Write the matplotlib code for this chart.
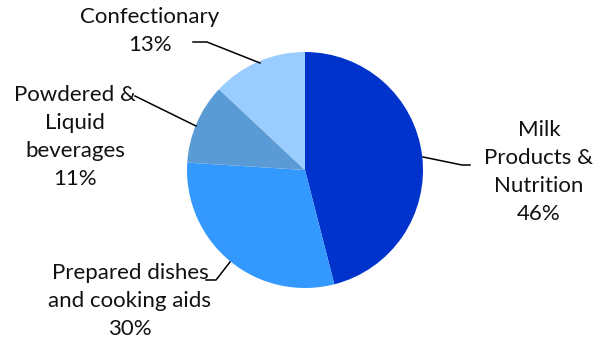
import matplotlib.pyplot as plt

segments = ["Milk\nProducts &\nNutrition", "Prepared dishes\nand cooking aids",
            "Powdered &\nLiquid\nbeverages", "Confectionary"]
shares = [46, 30, 11, 13]
colors = ["#0033CC", "#3399FF", "#5B9BD5", "#99CCFF"]

W, H = 603, 346
fig = plt.figure(figsize=(W / 100, H / 100), dpi=100)
ax = fig.add_axes([0, 0, 1, 1])

cx, cy, r = 305, H - 170, 118
ax.pie(shares, colors=colors, startangle=90, counterclock=False,
       center=(cx, cy), radius=r, frame=True,
       wedgeprops=dict(linewidth=0))
ax.set_xlim(0, W)
ax.set_ylim(0, H)
ax.set_aspect("equal")
ax.axis("off")

# label text centre, and leader line points (pie edge -> elbow -> end), image coords
layout = [
    ((539, 172), [(423, 157), (462, 165), (470, 165)]),
    ((130, 301), [(230, 262), (216, 280), (206, 280)]),
    ((75, 137), [(196, 126), (135, 96)]),
    ((150, 31), [(260, 63), (207, 42), (193, 42)]),
]

for lab, pct, (tpos, pts) in zip(segments, shares, layout):
    xs = [p[0] for p in pts]
    ys = [H - p[1] for p in pts]
    ax.plot(xs, ys, color="black", linewidth=1.1)
    ax.text(tpos[0], H - tpos[1], f"{lab}\n{pct}%", ha="center", va="center",
            fontsize=16, family=["Lato", "DejaVu Sans"], linespacing=1.5,
            color="#111111")

fig.savefig("out.png", dpi=100)
